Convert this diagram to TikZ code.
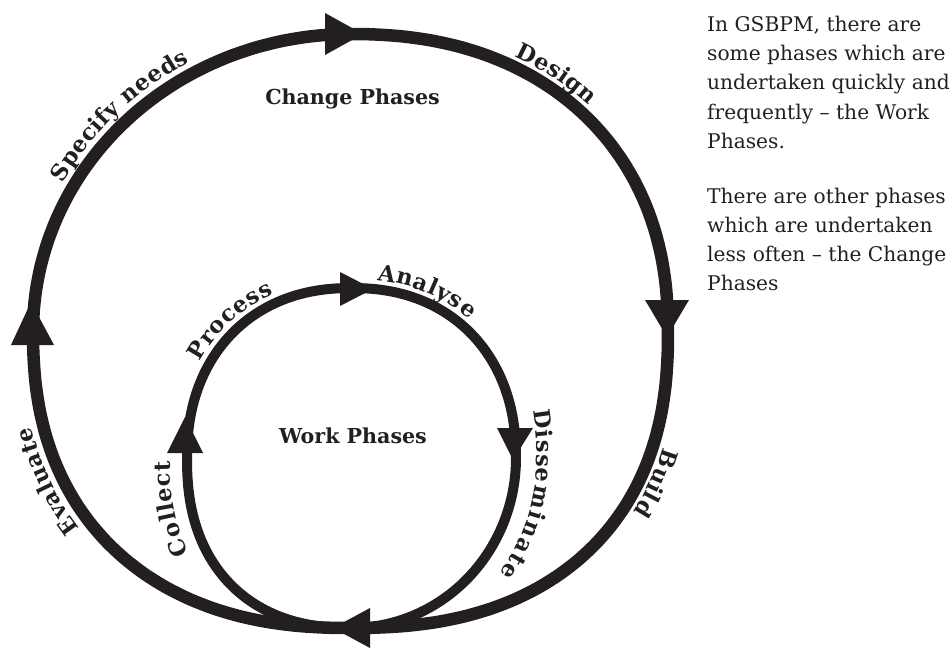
\documentclass[tikz,border=0pt]{standalone}
\usepackage{fontspec}
\setmainfont{DejaVu Serif}
\usetikzlibrary{decorations.text}
\definecolor{ink}{HTML}{231F20}
\newcommand\labfont{\fontsize{22.5}{26}\selectfont\bfseries}
\newcommand\titlefont{\fontsize{20.6}{24}\selectfont\bfseries}
\newcommand\bodyfont{\fontsize{20.2}{29}\selectfont}
\begin{document}
\begin{tikzpicture}[x=1pt, y=-1pt,
  declare function={
    oe(\t)=(cos(\t)<0)*((sin(\t)<0)*1.0+(1-(sin(\t)<0))*0.87)+(1-(cos(\t)<0))*((sin(\t)<0)*0.9+(1-(sin(\t)<0))*0.85);
    ox(\t)=350.5+317.5*cos(\t)*pow(abs(cos(\t))+0.00001,oe(\t)-1);
    oy(\t)=331+297*sin(\t)*pow(abs(sin(\t))+0.00001,oe(\t)-1);
    ie(\t)=(cos(\t)<0)*((sin(\t)<0)*0.91+(1-(sin(\t)<0))*0.87)+(1-(cos(\t)<0))*((sin(\t)<0)*0.91+(1-(sin(\t)<0))*1.0);
    ix(\t)=351.5+164.5*cos(\t)*pow(abs(cos(\t))+0.00001,ie(\t)-1);
    iy(\t)=458+170*sin(\t)*pow(abs(sin(\t))+0.00001,ie(\t)-1);
  },
  outerloop/.style={draw=ink, line width=12.5pt},
  innerloop/.style={draw=ink, line width=10pt},
  head/.style={fill=ink, draw=none},
  lab/.style 2 args={decorate, decoration={text along path, text={|\labfont\color{ink}|#2}, text align=center, raise=#1}},
  body/.style={anchor=base west, font=\bodyfont, text=ink, inner sep=0pt},
  title/.style={anchor=base, font=\titlefont, text=ink, inner sep=0pt}
]
\useasboundingbox (0,0) rectangle (952,650);

% loops
\draw[outerloop] plot[smooth cycle, domain=2.5:357.5, samples=72] ({ox(\x)},{oy(\x)});
\draw[innerloop] plot[smooth cycle, domain=2.5:357.5, samples=72] ({ix(\x)},{iy(\x)});

% arrowheads, outer
\fill[head] (325,13) -- (363,34) -- (325,55) -- cycle;
\fill[head] (645,300) -- (667,337) -- (689,300) -- cycle;
\fill[head] (11,345) -- (31,302) -- (54,345) -- cycle;
\fill[head] (370,608) -- (333,628) -- (370,648) -- cycle;
% arrowheads, inner
\fill[head] (340,272) -- (373,289) -- (340,306) -- cycle;
\fill[head] (497,428) -- (513,460) -- (533,428) -- cycle;
\fill[head] (167,453) -- (185,417) -- (203,453) -- cycle;

% labels on the outer loop
\path[lab={11pt}{Specify needs}] plot[smooth, domain=184:264, samples=11] ({ox(\x)},{oy(\x)});
\path[lab={10pt}{Design}] plot[smooth, domain=273:343, samples=11] ({ox(\x)},{oy(\x)});
\path[lab={10pt}{Build}] plot[smooth, domain=-6:64, samples=11] ({ox(\x)},{oy(\x)});
\path[lab={12pt}{Evaluate}] plot[smooth, domain=117:187, samples=11] ({ox(\x)},{oy(\x)});
% labels on the inner loop
\path[lab={9pt}{Process}] plot[smooth, domain=187.8:267.8, samples=9] ({ix(\x)},{iy(\x)});
\path[lab={9pt}{Analyse}] plot[smooth, domain=256:336, samples=9] ({ix(\x)},{iy(\x)});
\path[lab={21pt}{Disseminate}] plot[smooth, domain=-33:57, samples=10] ({ix(\x)},{iy(\x)});
\path[lab={17pt}{Collect}] plot[smooth, domain=123:203, samples=9] ({ix(\x)},{iy(\x)});

% titles
\node[title] (cp) at (352.5,105) {Change Phases};
\node[title] (wp) at (353,443) {Work Phases};

% explanation
\node[body] (t1) at (707,32) {In GSBPM, there are};
\node[body] (t2) at (707,61) {some phases which are};
\node[body] (t3) at (707,90) {undertaken quickly and};
\node[body] (t4) at (707,119) {frequently – the Work};
\node[body] (t5) at (707,148) {Phases.};
\node[body] (t6) at (707,203) {There are other phases};
\node[body] (t7) at (707,232) {which are undertaken};
\node[body] (t8) at (707,261) {less often – the Change};
\node[body] (t9) at (707,290) {Phases};
\end{tikzpicture}
\end{document}
